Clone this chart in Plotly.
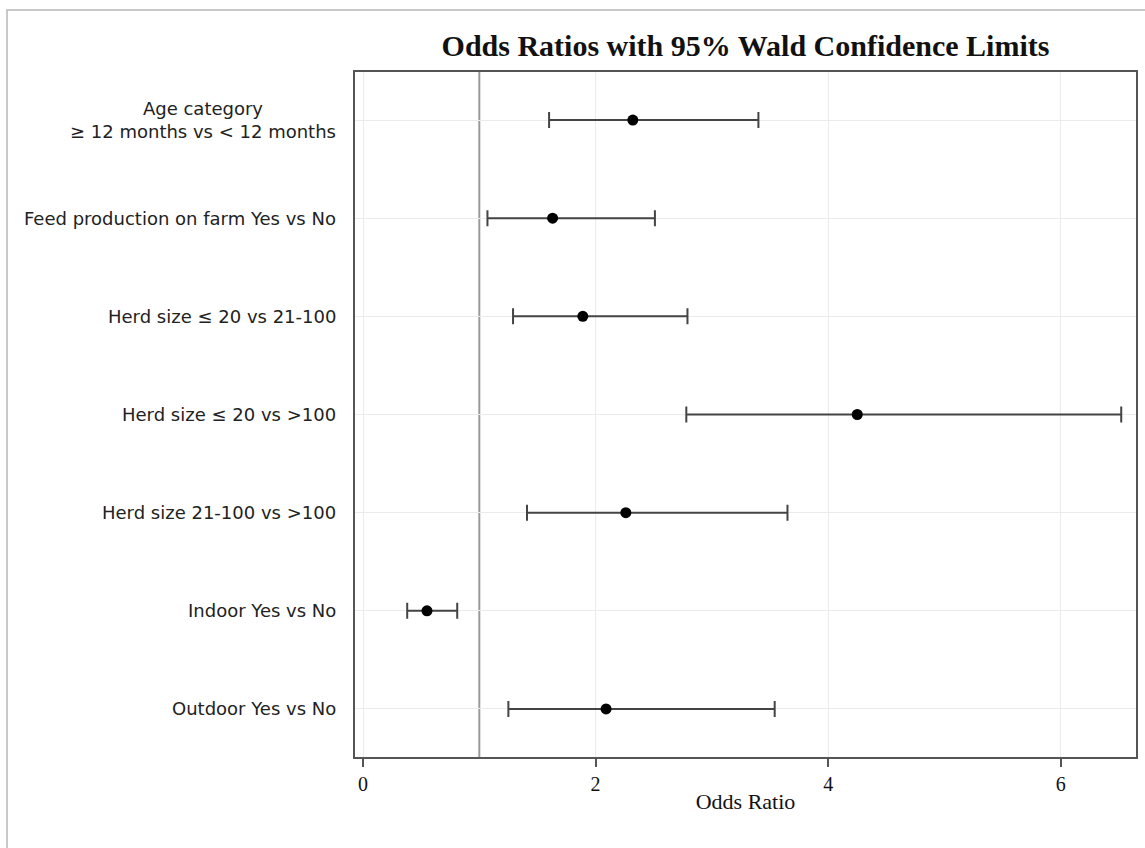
import plotly.graph_objects as go

categories = [
    "Age category<br>≥ 12 months vs < 12 months",
    "Feed production on farm Yes vs No",
    "Herd size ≤ 20 vs 21-100",
    "Herd size ≤ 20 vs >100",
    "Herd size 21-100 vs >100",
    "Indoor Yes vs No",
    "Outdoor Yes vs No",
]
odds_ratio = [2.32, 1.63, 1.89, 4.25, 2.26, 0.55, 2.09]
lower_ci = [1.60, 1.07, 1.29, 2.78, 1.41, 0.38, 1.25]
upper_ci = [3.40, 2.51, 2.79, 6.52, 3.65, 0.81, 3.54]
x_ticks = [0, 2, 4, 6]
ref_value = 1

W, H = 1145, 848
L, R, T, B = 355, 1136, 72, 757

ypos = list(range(len(categories)))

fig = go.Figure()
fig.add_trace(go.Scatter(
    x=odds_ratio, y=ypos, mode="markers",
    marker=dict(color="black", size=11),
    error_x=dict(type="data", symmetric=False,
                 array=[u - o for u, o in zip(upper_ci, odds_ratio)],
                 arrayminus=[o - l for o, l in zip(odds_ratio, lower_ci)],
                 color="#444444", thickness=2, width=8),
    showlegend=False, hoverinfo="skip",
))

def px_x(p):
    return (p - L) / (R - L)

def px_y(p):
    return (B - p) / (B - T)

shapes = [
    dict(type="line", xref="x", yref="paper", x0=ref_value, x1=ref_value, y0=0, y1=1,
         line=dict(color="#9a9a9a", width=2), layer="below"),
    dict(type="rect", xref="paper", yref="paper",
         x0=px_x(7), x1=px_x(1170), y0=px_y(10), y1=px_y(870),
         line=dict(color="#c8c8c8", width=2), layer="below"),
]

annotations = []
for i, c in enumerate(categories):
    annotations.append(dict(
        x=0, xref="paper", y=i, yref="y", text=c, showarrow=False,
        xanchor="right", yanchor="middle", align="center", xshift=-17,
        font=dict(family="DejaVu Sans", size=18, color="#222"),
    ))

fig.update_layout(
    width=W, height=H,
    margin=dict(l=L, r=W - R, t=T, b=H - B, autoexpand=False),
    paper_bgcolor="white", plot_bgcolor="white",
    title=dict(text="<b>Odds Ratios with 95% Wald Confidence Limits</b>",
               x=(0.5 * (L + R)) / W, xanchor="center", xref="container",
               y=1 - 45 / H, yanchor="middle", yref="container",
               font=dict(family="Liberation Serif", size=30, color="#111")),
    shapes=shapes,
    annotations=annotations,
)

fig.update_xaxes(
    range=[-0.069, 6.647], tickvals=x_ticks, ticks="outside", ticklen=8,
    tickwidth=2, tickcolor="#555", showline=True, linecolor="#555", linewidth=2,
    mirror=True, showgrid=True, gridcolor="#ebebeb", gridwidth=1, zeroline=False,
    tickfont=dict(family="Liberation Serif", size=20, color="#111"),
    title=dict(text="Odds Ratio", standoff=0,
               font=dict(family="Liberation Serif", size=22, color="#111")),
)
fig.update_yaxes(
    range=[6.49, -0.49], tickvals=ypos, showticklabels=False, ticks="",
    showline=True, linecolor="#555", linewidth=2, mirror=True,
    showgrid=True, gridcolor="#ebebeb", gridwidth=1, zeroline=False,
)

fig.write_html("out.html")
